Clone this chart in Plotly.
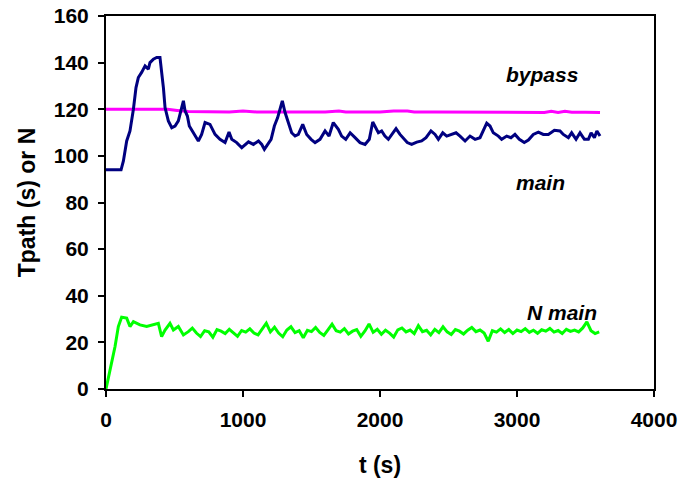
import plotly.graph_objects as go

# ---- data ----
main_t = [0, 110, 127, 151, 175, 200, 219, 236, 260, 285, 309, 321, 346, 370, 394, 406, 419, 431, 455, 480,
          504, 528, 553, 565, 577, 594, 608, 638, 674, 698, 723, 759, 796, 832, 869, 898, 918, 954, 991, 1040,
          1076, 1113, 1137, 1156, 1181, 1205, 1229, 1253, 1270, 1287, 1307, 1331, 1355, 1380, 1404, 1436, 1465,
          1497, 1526, 1562, 1599, 1628, 1659, 1696, 1720, 1750, 1782, 1818, 1854, 1891, 1922, 1947, 1963, 1988,
          2012, 2036, 2061, 2085, 2117, 2146, 2170, 2199, 2231, 2268, 2304, 2336, 2372, 2402, 2426, 2458, 2487,
          2523, 2555, 2584, 2621, 2657, 2694, 2730, 2754, 2779, 2803, 2827, 2864, 2888, 2925, 2956, 2985, 3017,
          3053, 3083, 3119, 3156, 3192, 3229, 3273, 3314, 3338, 3375, 3399, 3431, 3460, 3492, 3521, 3541, 3565,
          3583, 3606]
main_v = [94, 94, 97.8, 106.4, 110.7, 120, 129.3, 133.6, 135.8, 138.6, 137.2, 140, 141.5, 142.2, 142.2, 136.5,
          129.3, 120.7, 115, 112.1, 112.8, 115, 121.4, 123.6, 119.3, 117.1, 112.8, 109.9, 106.4, 109.2, 114.3,
          113.5, 109.2, 107.1, 105.7, 110.2, 107.1, 105.7, 103.5, 106, 104.9, 106.4, 104.9, 102.8, 104.9, 107.1,
          112.8, 116.4, 120, 123.6, 118.6, 114.3, 109.9, 108.5, 109.2, 113.5, 109.2, 107.1, 105.7, 107.1, 110.7,
          108.5, 114.3, 111.4, 108.5, 107.1, 109.9, 107.8, 105.7, 104.9, 107.1, 114.5, 112.8, 109.9, 110.7, 108.5,
          107.1, 109.2, 111.7, 109.2, 107.8, 105.7, 104.9, 105.9, 106.4, 107.8, 110.7, 109.2, 107.1, 109.9, 108.5,
          109.2, 109.9, 108.5, 106.4, 108.5, 107.1, 107.8, 110.7, 114, 112.8, 109.9, 108.5, 107.1, 108.5, 107.8,
          109.2, 107.1, 105.7, 106.8, 109.2, 110.2, 109.2, 109.2, 111, 110.7, 109.2, 107.8, 109.9, 107.1, 109.9,
          107.1, 107.1, 109.9, 107.8, 110.7, 108.5]

bypass_t = [0, 450, 520, 600, 900, 1000, 1100, 1600, 1700, 1750, 2000, 2100, 2200, 2250, 2400, 2800, 3200, 3250,
            3300, 3350, 3400, 3500, 3606]
bypass_v = [120, 120, 119.5, 119, 118.8, 119.2, 118.8, 118.8, 119.2, 118.8, 118.8, 119.2, 119.2, 118.8, 118.8,
            118.6, 118.6, 119.1, 118.6, 119.1, 118.7, 118.7, 118.6]

n_t = [0, 30, 66, 90, 114, 151, 175, 200, 248, 297, 346, 382, 406, 431, 467, 492, 528, 565, 601] + \
      list(range(630, 3601, 30))
n_v = [0, 8.2, 18.2, 26.8, 30.8, 30.4, 26.8, 28.9, 27.5, 26.8, 27.5, 28.2, 22.5, 25.3, 28.2, 25.3, 26.8, 23.2,
       24.6,
       26.1, 24.0, 22.5, 25.0, 24.5, 22.2, 25.5, 24.8, 23.8, 25.6, 24.2, 22.6, 25.1, 24.4, 25.8, 24.0, 23.2, 25.5,
       28.2, 24.5, 26.5, 24.0, 22.4, 25.3, 26.7, 24.2, 25.0, 22.0, 25.2, 24.6, 26.4, 24.3, 23.0, 25.4, 27.8, 25.0,
       24.4, 25.9, 23.6, 24.8, 25.5, 22.6, 24.9, 27.9, 24.3, 25.6, 23.5, 25.2, 24.0, 22.3, 25.4, 26.2, 24.5, 25.3,
       23.8, 27.2, 24.6, 25.2, 23.2, 25.6, 24.2, 26.7, 24.5, 23.4, 25.5, 24.8, 23.6, 25.2, 26.4, 24.6, 25.3, 24.0,
       20.5, 25.0, 24.4, 25.8, 24.2, 25.5, 23.8, 25.3, 24.6, 25.9, 24.3, 25.2, 23.9, 25.4, 24.8, 26.0, 24.4, 25.1,
       23.8, 25.6, 24.7, 25.3, 24.5, 26.2, 28.8, 25.0, 23.8, 24.5]

labels = ["bypass", "main", "N main"]
label_x = [3182, 3168, 3328]
label_y = [135, 88.6, 32.7]

x_ticks = [0, 1000, 2000, 3000, 4000]
y_ticks = [0, 20, 40, 60, 80, 100, 120, 140, 160]

FONT = "Liberation Sans, Arial, sans-serif"

fig = go.Figure()
fig.add_trace(go.Scatter(x=bypass_t, y=bypass_v, mode="lines", line=dict(color="#FF00FF", width=3),
                         showlegend=False, hoverinfo="skip"))
fig.add_trace(go.Scatter(x=main_t, y=main_v, mode="lines", line=dict(color="#000080", width=3),
                         showlegend=False, hoverinfo="skip"))
fig.add_trace(go.Scatter(x=n_t, y=n_v, mode="lines", line=dict(color="#00FF00", width=3),
                         showlegend=False, hoverinfo="skip"))

for txt, xx, yy in zip(labels, label_x, label_y):
    fig.add_annotation(x=xx, y=yy, text="<b><i>%s</i></b>" % txt, showarrow=False,
                       font=dict(family=FONT, size=21, color="black"))

fig.update_xaxes(range=[0, 4000], tickvals=x_ticks, ticks="outside", ticklen=6, tickwidth=2, tickcolor="black",
                 showline=True, linecolor="black", linewidth=2, mirror=True, showgrid=False, zeroline=False,
                 automargin=False, ticklabelstandoff=5,
                 tickfont=dict(family=FONT, size=21, color="black", weight="bold"),
                 title=dict(text="<b>t (s)</b>", font=dict(family=FONT, size=23, color="black"), standoff=27))
fig.update_yaxes(range=[0, 160], tickvals=y_ticks, ticks="outside", ticklen=6, tickwidth=2, tickcolor="black",
                 showline=True, linecolor="black", linewidth=2, mirror=True, showgrid=False, zeroline=False,
                 automargin=False, ticklabelstandoff=5,
                 tickfont=dict(family=FONT, size=21, color="black", weight="bold"),
                 title=dict(text="<b>Tpath (s) or N</b>", font=dict(family=FONT, size=23, color="black"),
                            standoff=12))
fig.update_layout(width=684, height=487, margin=dict(l=106, r=30, t=16, b=98),
                  paper_bgcolor="white", plot_bgcolor="white")
fig.write_html("out.html")
